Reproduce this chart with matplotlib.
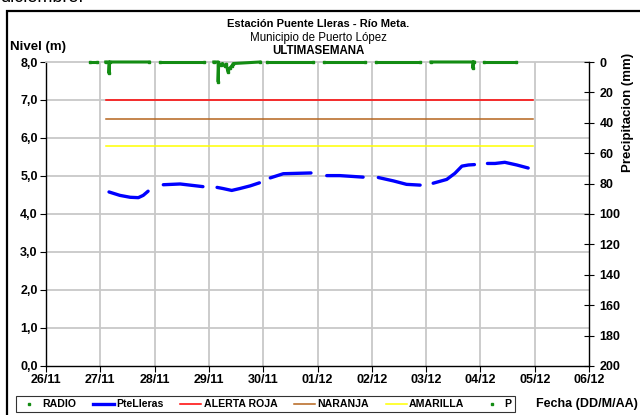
import numpy as np
import matplotlib.pyplot as plt
from matplotlib.lines import Line2D
from matplotlib.patches import Rectangle

plt.rcParams['font.family'] = ['Liberation Sans', 'DejaVu Sans']

# days counted from 26/11 00:00
day_labels = ["26/11", "27/11", "28/11", "29/11", "30/11", "01/12",
              "02/12", "03/12", "04/12", "05/12", "06/12"]

# water level (m), one list per day, gaps between them
nivel_t = [
    [1.16, 1.36, 1.55, 1.70, 1.79, 1.88],
    [2.16, 2.47, 2.71, 2.89],
    [3.15, 3.26, 3.42, 3.57, 3.76, 3.93],
    [4.13, 4.37, 4.62, 4.88],
    [5.17, 5.41, 5.63, 5.84],
    [6.12, 6.40, 6.64, 6.89],
    [7.13, 7.38, 7.53, 7.66, 7.78, 7.89],
    [8.13, 8.27, 8.45, 8.67, 8.88],
]
nivel_m = [
    [4.58, 4.49, 4.44, 4.43, 4.49, 4.60],
    [4.77, 4.79, 4.75, 4.72],
    [4.70, 4.67, 4.62, 4.67, 4.74, 4.82],
    [4.95, 5.06, 5.07, 5.08],
    [5.01, 5.01, 4.99, 4.97],
    [4.96, 4.87, 4.78, 4.76],
    [4.81, 4.91, 5.07, 5.26, 5.29, 5.30],
    [5.33, 5.33, 5.36, 5.29, 5.21],
]

# alert thresholds (m) and the span they are drawn over
alerta_roja = 7.0
naranja = 6.5
amarilla = 5.8
alerta_span = [1.1, 8.97]

# precipitation (mm), one list per block of records
precip_t = [
    [0.81, 0.94],
    [1.10, 1.16, 1.16, 1.17, 1.90],
    [2.10, 2.91],
    [3.09, 3.17, 3.17, 3.18, 3.22, 3.25, 3.29, 3.32, 3.35, 3.38, 3.42, 3.45, 3.94],
    [4.07, 4.92],
    [5.12, 5.87],
    [6.08, 6.89],
    [7.09, 7.86, 7.86, 7.88],
    [8.07, 8.66],
]
precip_mm = [
    [0, 0],
    [0, 0, 7.4, 0, 0],
    [0, 0],
    [0, 0, 13.0, 1.0, 2.0, 1.0, 2.6, 1.5, 6.4, 4.2, 2.6, 1.0, 0],
    [0, 0],
    [0, 0],
    [0, 0],
    [0, 0, 4.0, 0],
    [0, 0],
]

fig = plt.figure(figsize=(6.4, 4.15), dpi=100)
ax = fig.add_axes([0.0719, 0.1181, 0.8484, 0.7325])

grid_color = "#c8c8c8"
for d in range(1, 10):
    ax.axvline(d, color=grid_color, lw=1.3, zorder=0)
for lvl in range(1, 8):
    ax.axhline(lvl, color=grid_color, lw=1.3, zorder=0)

ax.plot(alerta_span, [alerta_roja] * 2, color="#ff0000", lw=1.1, zorder=2)
ax.plot(alerta_span, [naranja] * 2, color="#b5651d", lw=1.1, zorder=2)
ax.plot(alerta_span, [amarilla] * 2, color="#ffff00", lw=1.1, zorder=2)

for t, v in zip(nivel_t, nivel_m):
    ax.plot(t, v, color="#0000ff", lw=2.4, solid_capstyle="round", zorder=3)

ax.set_xlim(0, 10)
ax.set_ylim(0, 8)
ax.set_xticks(range(11))
ax.set_xticklabels(day_labels)
ax.set_yticks(range(9))
ax.set_yticklabels([f"{v},0" for v in range(9)])
ax.tick_params(axis="both", labelsize=9, length=4, width=0.8, direction="out", pad=2)
for lab in ax.get_xticklabels() + ax.get_yticklabels():
    lab.set_fontweight("bold")
ax.spines["top"].set_color(grid_color)
ax.spines["top"].set_linewidth(1.3)
for s in ["left", "bottom"]:
    ax.spines[s].set_linewidth(1.0)
ax.spines["right"].set_visible(False)

# precipitation on an inverted right-hand axis
ax2 = ax.twinx()
for t, v in zip(precip_t, precip_mm):
    ax2.plot(t, v, color="#138c13", lw=2.2, marker="s", markersize=2,
             clip_on=False, zorder=4)
ax2.set_ylim(200, 0)
ax2.set_yticks(range(0, 201, 20))
ax2.tick_params(axis="y", labelsize=9, length=7, width=0.8, direction="inout", pad=4)
for lab in ax2.get_yticklabels():
    lab.set_fontweight("bold")
for s in ["top", "left", "bottom"]:
    ax2.spines[s].set_visible(False)
ax2.spines["right"].set_linewidth(1.0)

fig.text(0.497, 0.942, "Estación Puente Lleras - Río Meta.", ha="center", va="center",
         fontsize=8, fontweight="bold")
fig.text(0.497, 0.909, "Municipio de Puerto López", ha="center", va="center", fontsize=8.3)
fig.text(0.497, 0.876, "ULTIMASEMANA", ha="center", va="center",
         fontsize=8.3, fontweight="bold")
fig.text(0.015, 0.886, "Nivel (m)", ha="left", va="center", fontsize=9.5, fontweight="bold")
fig.text(0.982, 0.73, "Precipitacion (mm)", ha="center", va="center", rotation=90,
         fontsize=9.5, fontweight="bold")
fig.text(0.997, 0.026, "Fecha (DD/M/AA)", ha="right", va="center",
         fontsize=9, fontweight="bold")
fig.text(0.0, 1.005, "diciembre.", ha="left", va="center", fontsize=13)

handles = [
    Line2D([], [], color="#138c13", marker="s", markersize=2, lw=0),
    Line2D([], [], color="#0000ff", lw=2.4),
    Line2D([], [], color="#ff0000", lw=1.1),
    Line2D([], [], color="#b5651d", lw=1.1),
    Line2D([], [], color="#ffff00", lw=1.1),
    Line2D([], [], color="#138c13", marker="s", markersize=2, lw=0),
]
labels = ["RADIO", "PteLleras", "ALERTA ROJA", "NARANJA", "AMARILLA", "P"]
leg = fig.legend(handles, labels, loc="center left", bbox_to_anchor=(0.016, 0.026),
                 ncol=6, frameon=True, fancybox=False, edgecolor="black",
                 handlelength=2.0, handletextpad=0.2, columnspacing=1.6,
                 borderpad=0.3, prop={"weight": "bold", "size": 7.6})
leg.get_frame().set_linewidth(0.8)

# outer frame of the chart
fig.patches.append(Rectangle((7 / 640, -0.05), 1.0, 1 - 11 / 415 + 0.05,
                             transform=fig.transFigure, fill=False,
                             edgecolor="black", lw=1.6))

fig.savefig("out.png", dpi=100)
